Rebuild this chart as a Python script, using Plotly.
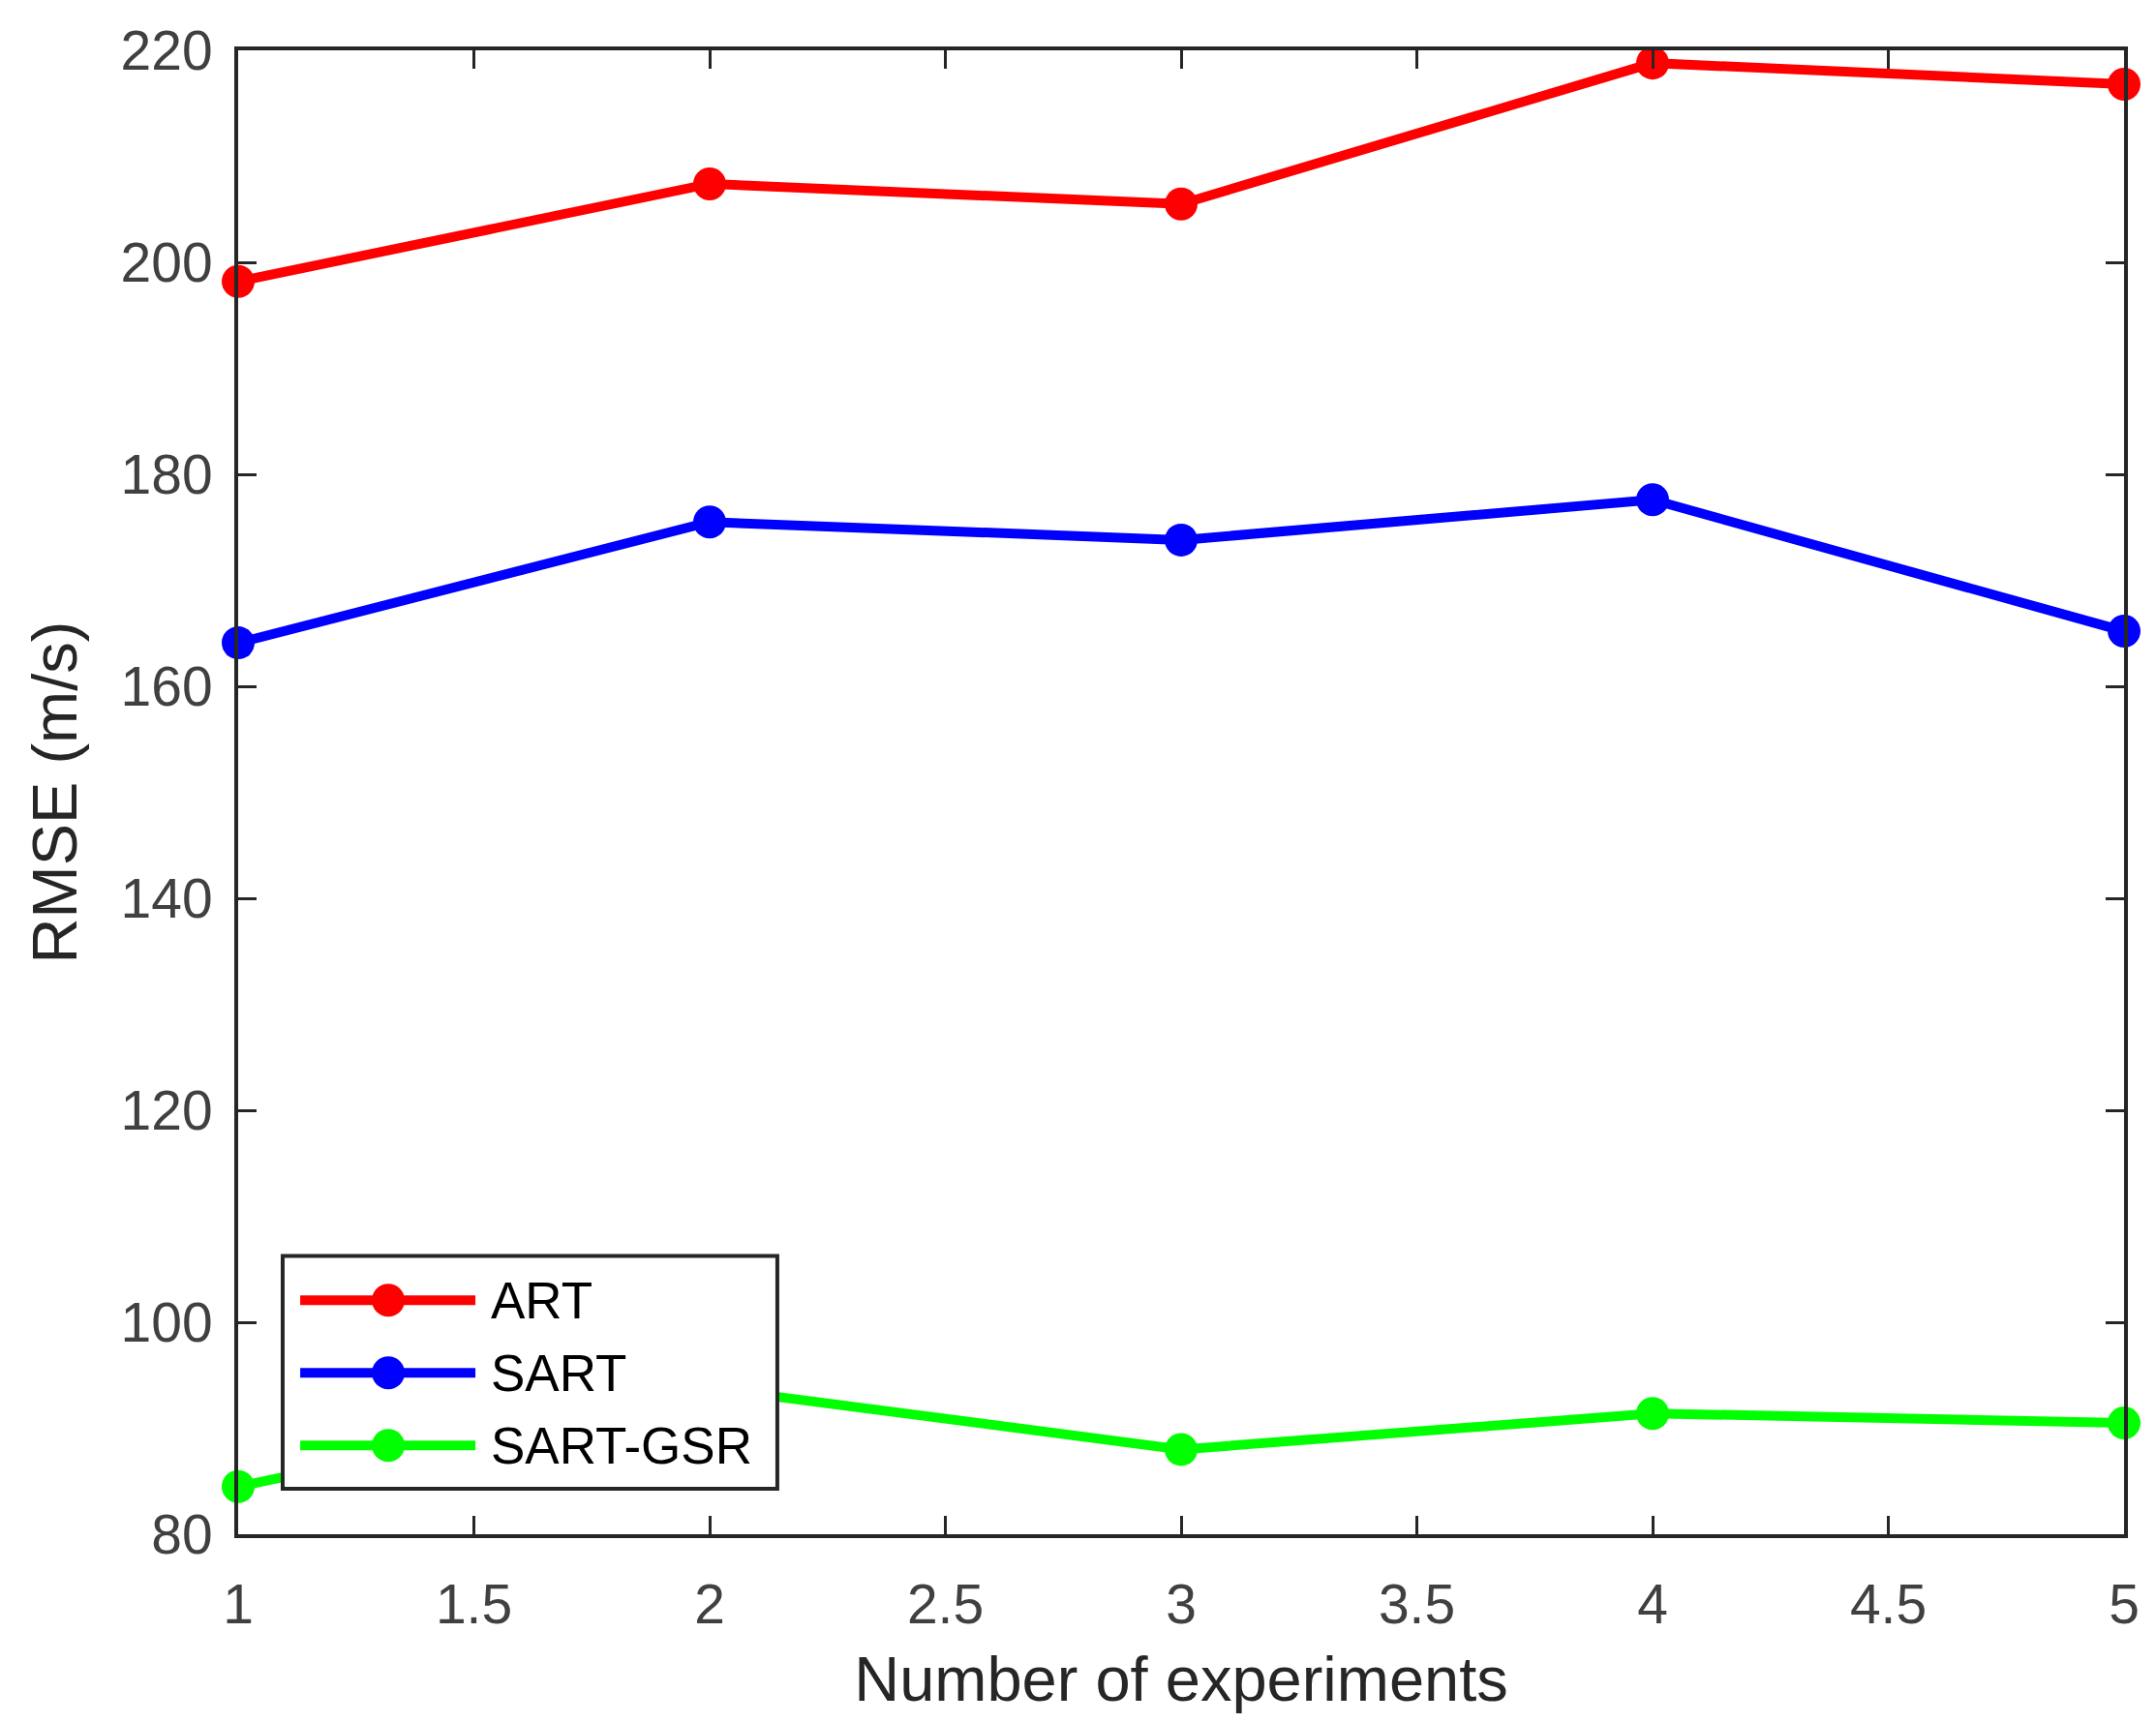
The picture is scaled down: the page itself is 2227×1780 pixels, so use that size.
import plotly.graph_objects as go

experiments = [1, 2, 3, 4, 5]
art = [198.2, 207.4, 205.5, 218.8, 216.8]
sart = [164.1, 175.5, 173.8, 177.6, 165.2]
sart_gsr = [84.5, 93.8, 88.0, 91.4, 90.5]

series_names = ["ART", "SART", "SART-GSR"]
series_values = [art, sart, sart_gsr]
series_colors = ["#FF0000", "#0000FF", "#00FF00"]

x_tickvals = [1, 1.5, 2, 2.5, 3, 3.5, 4, 4.5, 5]
x_ticktext = ["1", "1.5", "2", "2.5", "3", "3.5", "4", "4.5", "5"]
y_tickvals = [80, 100, 120, 140, 160, 180, 200, 220]

FONT = "Liberation Sans, Arial, Helvetica, sans-serif"
LINE_W = 10
MARK = 34

fig = go.Figure()
for name, vals, col in zip(series_names, series_values, series_colors):
    fig.add_trace(go.Scatter(
        x=experiments, y=vals, name=name, mode="lines+markers",
        line=dict(color=col, width=LINE_W),
        marker=dict(color=col, size=MARK, symbol="circle"),
        cliponaxis=False, showlegend=False,
    ))

axis_common = dict(
    showline=True, linewidth=4, linecolor="#262626", mirror="ticks",
    ticks="inside", ticklen=19, tickwidth=3, tickcolor="#262626",
    showgrid=False, zeroline=False,
    tickfont=dict(family=FONT, size=57, color="#404040"),
)

fig.update_xaxes(
    range=[1, 5], tickvals=x_tickvals, ticktext=x_ticktext,
    title=dict(text="Number of experiments", font=dict(family=FONT, size=65, color="#262626"), standoff=24),
    ticklabelstandoff=20,
    **axis_common,
)
fig.update_yaxes(
    range=[80, 220], tickvals=y_tickvals,
    title=dict(text="RMSE (m/s)", font=dict(family=FONT, size=65, color="#262626"), standoff=25),
    ticklabelstandoff=11,
    **axis_common,
)

# Legend box drawn manually (paper coordinates)
box = dict(x0=0.0236, x1=0.2859, y0=0.0306, y1=0.1876)
row_y = [0.1577, 0.1088, 0.0599]
line_x0, line_x1, mark_x, text_x = 0.0329, 0.1258, 0.0796, 0.1330

shapes = [dict(type="rect", xref="paper", yref="paper", layer="above",
               fillcolor="white", line=dict(color="#262626", width=4), **box)]
annotations = []
for name, col, yy in zip(series_names, series_colors, row_y):
    shapes.append(dict(type="line", xref="paper", yref="paper", layer="above",
                       x0=line_x0, x1=line_x1, y0=yy, y1=yy,
                       line=dict(color=col, width=LINE_W)))
    shapes.append(dict(type="circle", xref="paper", yref="paper", layer="above",
                       xsizemode="pixel", ysizemode="pixel",
                       xanchor=mark_x, yanchor=yy,
                       x0=-MARK / 2, x1=MARK / 2, y0=-MARK / 2, y1=MARK / 2,
                       fillcolor=col, line=dict(width=0)))
    annotations.append(dict(text=name, xref="paper", yref="paper",
                            x=text_x, y=yy, xanchor="left", yanchor="middle",
                            showarrow=False,
                            font=dict(family=FONT, size=53, color="black")))

fig.update_layout(
    width=2227, height=1780,
    margin=dict(l=238, r=41, t=42, b=203),
    paper_bgcolor="white", plot_bgcolor="white",
    shapes=shapes, annotations=annotations,
)

fig.write_html("out.html")
